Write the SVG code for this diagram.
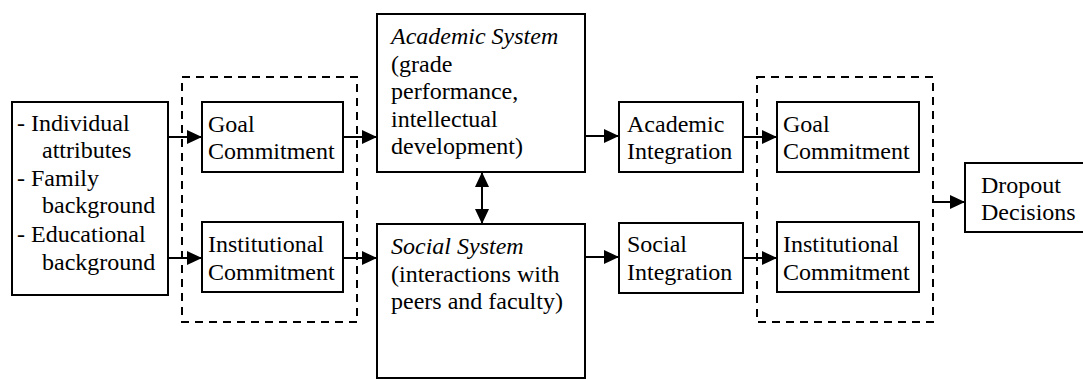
<svg xmlns="http://www.w3.org/2000/svg" width="1083" height="379" viewBox="0 0 1083 379">
<style>
.box{fill:#fff;stroke:#000;stroke-width:2}
.dash{fill:none;stroke:#000;stroke-width:2;stroke-dasharray:8 6}
text{font-family:"Liberation Serif","Times New Roman",serif;font-size:24px;fill:#000}
.it{font-style:italic}
.ln{stroke:#000;stroke-width:2;fill:none}
</style>
<defs>
<marker id="ah" markerUnits="userSpaceOnUse" markerWidth="16" markerHeight="16" refX="15" refY="7" orient="auto-start-reverse">
<path d="M0,0 L15,7 L0,14 Z" fill="#000"/>
</marker>
</defs>
<rect width="1083" height="379" fill="#fff"/>
<g id="group1"><rect class="dash" x="182" y="77" width="175" height="245"/></g>
<g id="group2"><rect class="dash" x="757" y="77" width="176" height="245"/></g>
<g id="connectors">
<line class="ln" x1="168" y1="137" x2="202" y2="137" marker-end="url(#ah)"/>
<line class="ln" x1="168" y1="258" x2="202" y2="258" marker-end="url(#ah)"/>
<line class="ln" x1="343" y1="137" x2="377" y2="137" marker-end="url(#ah)"/>
<line class="ln" x1="343" y1="258" x2="377" y2="258" marker-end="url(#ah)"/>
<line class="ln" x1="482" y1="172" x2="482" y2="224" marker-start="url(#ah)" marker-end="url(#ah)"/>
<line class="ln" x1="585" y1="136" x2="619" y2="136" marker-end="url(#ah)"/>
<line class="ln" x1="585" y1="257" x2="619" y2="257" marker-end="url(#ah)"/>
<line class="ln" x1="743" y1="137" x2="777" y2="137" marker-end="url(#ah)"/>
<line class="ln" x1="743" y1="258" x2="777" y2="258" marker-end="url(#ah)"/>
<line class="ln" x1="933" y1="202" x2="965" y2="202" marker-end="url(#ah)"/>
</g>
<g id="attributes">
<rect class="box" x="12" y="102" width="156" height="193"/>
<text x="17" y="131">- Individual</text>
<text x="42" y="158">attributes</text>
<text x="17" y="186">- Family</text>
<text x="42" y="213">background</text>
<text x="17" y="242">- Educational</text>
<text x="42" y="270">background</text>
</g>
<g id="goal1">
<rect class="box" x="202" y="102" width="141" height="70"/>
<text x="208" y="132">Goal</text>
<text x="208" y="159">Commitment</text>
</g>
<g id="inst1">
<rect class="box" x="202" y="222" width="141" height="70"/>
<text x="208" y="252">Institutional</text>
<text x="208" y="280">Commitment</text>
</g>
<g id="academic">
<rect class="box" x="377" y="14" width="208" height="158"/>
<text class="it" x="391" y="44">Academic System</text>
<text x="391" y="72">(grade</text>
<text x="391" y="99">performance,</text>
<text x="391" y="127">intellectual</text>
<text x="391" y="154">development)</text>
</g>
<g id="social">
<rect class="box" x="377" y="224" width="208" height="154"/>
<text class="it" x="391" y="254">Social System</text>
<text x="391" y="282">(interactions with</text>
<text x="391" y="309">peers and faculty)</text>
</g>
<g id="acadint">
<rect class="box" x="619" y="102" width="124" height="70"/>
<text x="627" y="132">Academic</text>
<text x="627" y="159">Integration</text>
</g>
<g id="socint">
<rect class="box" x="619" y="223" width="124" height="70"/>
<text x="627" y="252">Social</text>
<text x="627" y="280">Integration</text>
</g>
<g id="goal2">
<rect class="box" x="777" y="102" width="142" height="70"/>
<text x="783" y="132">Goal</text>
<text x="783" y="159">Commitment</text>
</g>
<g id="inst2">
<rect class="box" x="777" y="222" width="142" height="70"/>
<text x="783" y="252">Institutional</text>
<text x="783" y="280">Commitment</text>
</g>
<g id="dropout">
<rect class="box" x="965" y="163" width="125" height="69"/>
<text x="981" y="193">Dropout</text>
<text x="981" y="220">Decisions</text>
</g>
</svg>
